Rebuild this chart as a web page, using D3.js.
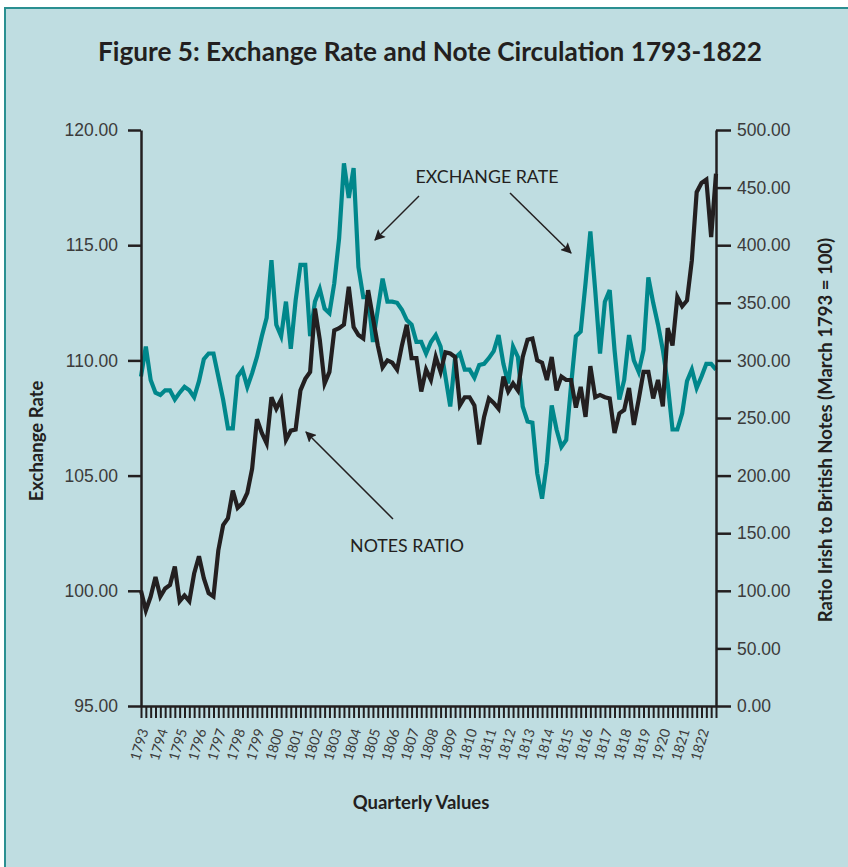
<!DOCTYPE html>
<html>
<head>
<meta charset="utf-8">
<script src="https://cdn.jsdelivr.net/npm/d3@7/dist/d3.min.js"></script>
<style>
  body { margin: 0; background: #fff; }
  svg { display: block; font-family: Lato, "Open Sans", sans-serif; }
</style>
</head>
<body>
<div id="chart"></div>
<script>
// quarterly series, 1793 Q1 .. 1822 Q4 (120 points)
var years = ["1793","1794","1795","1796","1797","1798","1799","1800","1801","1802",
  "1803","1804","1805","1806","1807","1808","1809","1810","1811","1812",
  "1813","1814","1815","1816","1817","1818","1819","1920","1821","1822"];

// exchange rate (left axis)
var exchangeRate = [
  109.3, 110.6, 109.15, 108.6, 108.5, 108.7, 108.7, 108.3, 108.6, 108.85,
  108.7, 108.4, 109.1, 110.05, 110.3, 110.3, 109.3, 108.3, 107.05, 107.05,
  109.3, 109.6, 108.85, 109.45, 110.15, 111.05, 111.85, 114.35, 111.55, 111.05,
  112.55, 110.5, 112.6, 114.15, 114.15, 111.05, 112.55, 113.1, 112.25, 112.05,
  113.35, 115.3, 118.55, 117.05, 118.35, 114.05, 112.75, 112.75, 110.8, 112.2,
  113.55, 112.55, 112.55, 112.5, 112.2, 111.75, 111.55, 110.8, 110.8, 110.3,
  110.8, 111.1, 110.6, 109.3, 108.0, 110.1, 110.3, 109.6, 109.6, 109.25,
  109.8, 109.85, 110.1, 110.4, 111.1, 109.85, 109.0, 110.6, 110.15, 108.0,
  107.35, 107.3, 105.1, 104.0, 105.55, 108.05, 107.0, 106.25, 106.55, 108.9,
  111.05, 111.25, 113.35, 115.6, 113.05, 110.3, 112.55, 113.05, 110.45, 108.3,
  109.15, 111.1, 110.0, 109.5, 110.45, 113.6, 112.5, 111.55, 110.45, 109.0,
  107.0, 107.0, 107.7, 109.1, 109.6, 108.8, 109.3, 109.85, 109.85, 109.6
];

// ratio irish to british notes, March 1793 = 100 (right axis)
var notesRatio = [
  100, 83, 95, 112, 95, 102, 105, 121, 91, 96,
  91, 115, 130, 111, 98, 95, 135, 157, 163, 187,
  172, 176, 185, 206, 249, 237, 228, 268, 258, 266,
  231, 239, 240, 274, 284, 290, 345, 318, 280, 290,
  326, 328, 331, 364, 329, 322, 319, 361, 337, 313,
  294, 300, 298, 292, 313, 331, 302, 302, 273, 292,
  283, 303, 290, 307, 306, 303, 261, 268, 268, 261,
  227, 251, 267, 263, 258, 286, 273, 280, 274, 303,
  318, 319, 300, 298, 283, 303, 274, 286, 283, 283,
  259, 277, 251, 295, 268, 270, 268, 267, 237, 254,
  257, 276, 244, 266, 290, 290, 267, 283, 260, 328,
  313, 355, 347, 352, 387, 446, 454, 457, 407, 462
];

var leftTicks = [95, 100, 105, 110, 115, 120];
var rightTicks = [0, 50, 100, 150, 200, 250, 300, 350, 400, 450, 500];

var W = 848, H = 867;
var teal = "#00878b", ink = "#231f20", grey = "#3b3b3b";

var svg = d3.select("#chart").append("svg").attr("width", W).attr("height", H);

// panel
svg.append("rect").attr("x", 5).attr("y", 8).attr("width", W + 10).attr("height", H + 10)
  .attr("fill", "#bfdde1").attr("stroke", "#2a8f91").attr("stroke-width", 2);

svg.append("text").attr("x", 430).attr("y", 61).attr("text-anchor", "middle")
  .attr("font-size", 26).attr("font-weight", "bold").attr("fill", ink)
  .attr("textLength", 664).attr("lengthAdjust", "spacingAndGlyphs")
  .text("Figure 5: Exchange Rate and Note Circulation 1793-1822");

var x = d3.scaleLinear().domain([0, notesRatio.length - 1]).range([141, 716]);
var yL = d3.scaleLinear().domain([95, 120]).range([706, 130]);
var yR = d3.scaleLinear().domain([0, 500]).range([706, 130]);

var lineL = d3.line().x(function (d, i) { return x(i); }).y(function (d) { return yL(d); });
var lineR = d3.line().x(function (d, i) { return x(i); }).y(function (d) { return yR(d); });

svg.append("path").datum(exchangeRate).attr("d", lineL)
  .attr("fill", "none").attr("stroke", teal).attr("stroke-width", 4.2);
svg.append("path").datum(notesRatio).attr("d", lineR)
  .attr("fill", "none").attr("stroke", ink).attr("stroke-width", 4.2);

// axes
function styleAxis(g) {
  g.selectAll("path, line").attr("stroke", ink).attr("stroke-width", 2.5);
  g.selectAll("text").attr("fill", grey).attr("font-size", 17.5);
}

svg.append("g").attr("transform", "translate(141,0)")
  .call(d3.axisLeft(yL).tickValues(leftTicks).tickFormat(d3.format(".2f"))
    .tickSize(13).tickSizeOuter(0).tickPadding(10))
  .call(styleAxis);

svg.append("g").attr("transform", "translate(716,0)")
  .call(d3.axisRight(yR).tickValues(rightTicks).tickFormat(d3.format(".2f"))
    .tickSize(15).tickSizeOuter(0).tickPadding(6))
  .call(styleAxis);

var xg = svg.append("g").attr("transform", "translate(0,706)")
  .call(d3.axisBottom(x).tickValues(d3.range(notesRatio.length)).tickFormat("")
    .tickSize(12).tickSizeOuter(0))
  .call(styleAxis);
xg.selectAll(".tick line").attr("stroke-width", 2);

// year labels, one per 4 quarters
svg.append("g").selectAll("text").data(years).join("text")
  .attr("transform", function (d, i) { return "translate(" + (x(i * 4) + 3) + ",729) rotate(-73)"; })
  .attr("text-anchor", "end").attr("dy", "0.35em")
  .attr("font-size", 14).attr("fill", grey)
  .text(function (d) { return d; });

// axis titles
svg.append("text").attr("transform", "translate(43,441) rotate(-90)")
  .attr("text-anchor", "middle").attr("font-size", 18.5).attr("font-weight", "bold").attr("fill", ink)
  .text("Exchange Rate");
svg.append("text").attr("transform", "translate(832,430) rotate(-90)")
  .attr("text-anchor", "middle").attr("font-size", 18.5).attr("font-weight", "bold").attr("fill", ink)
  .text("Ratio Irish to British Notes (March 1793 = 100)");
svg.append("text").attr("x", 421).attr("y", 809)
  .attr("text-anchor", "middle").attr("font-size", 18.5).attr("font-weight", "bold").attr("fill", ink)
  .text("Quarterly Values");

// annotations
svg.append("defs").append("marker").attr("id", "head")
  .attr("viewBox", "0 0 10 10").attr("refX", 9).attr("refY", 5)
  .attr("markerWidth", 11).attr("markerHeight", 11).attr("markerUnits", "userSpaceOnUse")
  .attr("orient", "auto")
  .append("path").attr("d", "M0,0L10,5L0,10L2,5Z").attr("fill", ink);

var arrows = [
  [419, 196, 375, 240],
  [510, 193, 571, 253],
  [393, 519, 306, 432]
];
svg.append("g").selectAll("line").data(arrows).join("line")
  .attr("x1", function (d) { return d[0]; }).attr("y1", function (d) { return d[1]; })
  .attr("x2", function (d) { return d[2]; }).attr("y2", function (d) { return d[3]; })
  .attr("stroke", ink).attr("stroke-width", 1.5).attr("marker-end", "url(#head)");

svg.append("text").attr("x", 487).attr("y", 183).attr("text-anchor", "middle")
  .attr("font-size", 17.8).attr("fill", ink).text("EXCHANGE RATE");
svg.append("text").attr("x", 407).attr("y", 552).attr("text-anchor", "middle")
  .attr("font-size", 17.8).attr("fill", ink).text("NOTES RATIO");
</script>
</body>
</html>
